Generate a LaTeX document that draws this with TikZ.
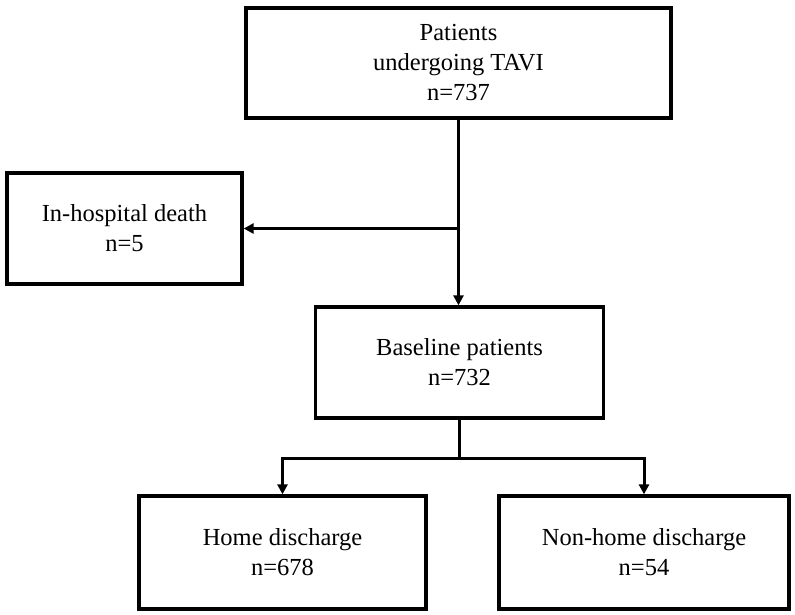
\documentclass[tikz,border=0pt]{standalone}
\usepackage{fontspec}
\setmainfont{Liberation Serif}
\usetikzlibrary{arrows.meta}
\begin{document}
\begin{tikzpicture}[x=1pt,y=-1pt,
  flowbox/.style={draw=black, line width=3.3pt, fill=white, align=center,
    inner sep=0pt, font=\fontsize{24.5}{30}\selectfont},
  conn/.style={line width=3pt, draw=black},
  arr/.style={conn, -{Triangle[length=10pt,width=10pt]}}]
\useasboundingbox (0,0) rectangle (795,614);
\node[flowbox, minimum width=425pt, minimum height=110pt] (top) at (458.5,63)
  {Patients\\undergoing TAVI\\n=737};
\node[flowbox, minimum width=235pt, minimum height=111pt] (death) at (124.5,228.5)
  {In-hospital death\\n=5};
\node[flowbox, minimum width=288pt, minimum height=111pt] (base) at (459.5,362.5)
  {Baseline patients\\n=732};
\node[flowbox, minimum width=287pt, minimum height=113pt] (home) at (282.5,552.5)
  {Home discharge\\n=678};
\node[flowbox, minimum width=290pt, minimum height=113pt] (nonhome) at (644,552.5)
  {Non-home discharge\\n=54};
\coordinate (j1) at (top.south |- death.east);
\coordinate (j2) at (459.5,458);
\draw[arr] (top.south) -- (top.south |- base.north);
\draw[arr] (j1) -- (death.east);
\draw[conn] (base.south) -- (j2);
\draw[arr] (j2) -| (home.north);
\draw[arr] (j2) -| (nonhome.north);
\end{tikzpicture}
\end{document}
